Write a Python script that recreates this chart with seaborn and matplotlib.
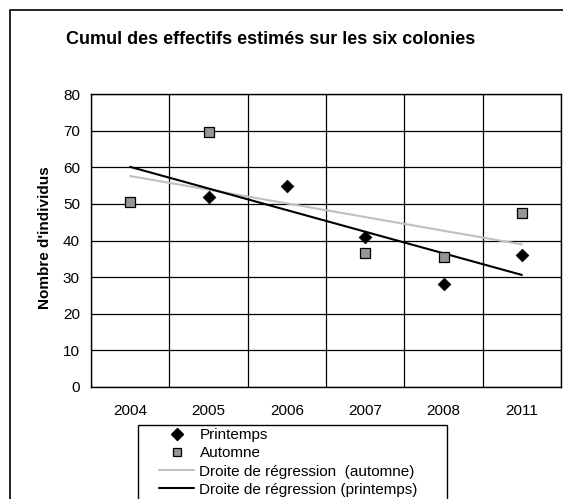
import numpy as np
import pandas as pd
import matplotlib
matplotlib.use("Agg")
import matplotlib.pyplot as plt
import seaborn as sns
from matplotlib.lines import Line2D
from matplotlib.patches import Rectangle

# ---- data ----
years = ['2004', '2005', '2006', '2007', '2008', '2011']
printemps = [np.nan, 52, 55, 41, 28, 36]
automne = [50.5, 69.5, np.nan, 36.5, 35.5, 47.5]
yticks = [0, 10, 20, 30, 40, 50, 60, 70, 80]
title = "Cumul des effectifs estimés sur les six colonies"
ylabel = "Nombre d'individus"
labels = ["Printemps", "Automne", "Droite de régression  (automne)",
          "Droite de régression (printemps)"]

sns.set_style("white")
plt.rcParams['font.family'] = ['Liberation Sans', 'DejaVu Sans']
plt.rcParams['text.color'] = 'black'
plt.rcParams['xtick.color'] = 'black'
plt.rcParams['ytick.color'] = 'black'
plt.rcParams['axes.labelcolor'] = 'black'

W, H = 563, 499
fig = plt.figure(figsize=(W / 100, H / 100), dpi=100)

def fx(px):
    return px / W

def fy(py):
    return 1 - py / H

ax = fig.add_axes([fx(91), fy(387), fx(561) - fx(91), fy(94) - fy(387)])

pos = np.arange(len(years))
df = pd.DataFrame({'pos': pos, 'printemps': printemps, 'automne': automne})

# regression lines (trend over category index)
def trend(vals):
    v = np.array(vals, dtype=float)
    m = ~np.isnan(v)
    k, b = np.polyfit(pos[m], v[m], 1)
    xs = np.array([pos[0], pos[-1]], dtype=float)
    return pd.DataFrame({'x': xs, 'y': k * xs + b})

ta = trend(automne)
tp = trend(printemps)
sns.lineplot(data=ta, x='x', y='y', ax=ax, color='#c0c0c0', lw=1.5, zorder=3)
sns.lineplot(data=tp, x='x', y='y', ax=ax, color='black', lw=1.5, zorder=3)

sns.scatterplot(data=df, x='pos', y='automne', ax=ax, marker='s', s=42,
                color='#969696', edgecolor='black', linewidth=0.9, zorder=4)
sns.scatterplot(data=df, x='pos', y='printemps', ax=ax, marker='D', s=42,
                color='black', edgecolor='black', linewidth=0.5, zorder=5)

ax.set_xlim(-0.5, len(years) - 0.5)
ax.set_ylim(0, 80)
ax.set_yticks(yticks)
ax.set_yticklabels([str(t) for t in yticks], fontsize=11)
ax.set_xticks(pos)
ax.set_xticklabels(years, fontsize=11)
ax.set_xticks(np.arange(-0.5, len(years)), minor=True)
ax.tick_params(axis='x', which='major', length=0, pad=12)
ax.tick_params(axis='x', which='minor', length=5, width=1, color='black',
               direction='out')
ax.tick_params(axis='y', length=5, width=1, color='black', direction='out',
               pad=3)
ax.yaxis.grid(True, color='black', lw=0.9)
ax.xaxis.grid(True, which='minor', color='black', lw=0.9)
ax.xaxis.grid(False, which='major')
ax.set_axisbelow(True)
for sp in ax.spines.values():
    sp.set_color('black')
    sp.set_linewidth(1)
ax.set_xlabel('')
ax.set_ylabel('')

fig.text(fx(271), fy(40), title, ha='center', va='center',
         fontsize=13, fontweight='bold')
fig.text(fx(45), fy(238), ylabel, ha='center', va='center',
         rotation=90, fontsize=11, fontweight='bold')

# outer frame
fig.patches.append(Rectangle((fx(10), fy(520)), fx(600) - fx(10),
                             fy(10) - fy(520), transform=fig.transFigure,
                             fill=False, edgecolor='black', lw=1.2))
# legend frame
fig.patches.append(Rectangle((fx(138), fy(520)), fx(447) - fx(138),
                             fy(425) - fy(520), transform=fig.transFigure,
                             fill=False, edgecolor='black', lw=1.0))

handles = [
    Line2D([], [], marker='D', ls='none', color='black', ms=6),
    Line2D([], [], marker='s', ls='none', markerfacecolor='#969696',
           markeredgecolor='black', ms=6.2, markeredgewidth=0.9),
    Line2D([], [], color='#c0c0c0', lw=1.5),
    Line2D([], [], color='black', lw=1.5),
]
fig.legend(handles, labels, loc='upper left',
           bbox_to_anchor=(fx(159), fy(428)), bbox_transform=fig.transFigure,
           frameon=False, fontsize=11, handlelength=2.3, handletextpad=0.35,
           labelspacing=0.28, borderpad=0, borderaxespad=0)

fig.savefig('out.png', dpi=100)
